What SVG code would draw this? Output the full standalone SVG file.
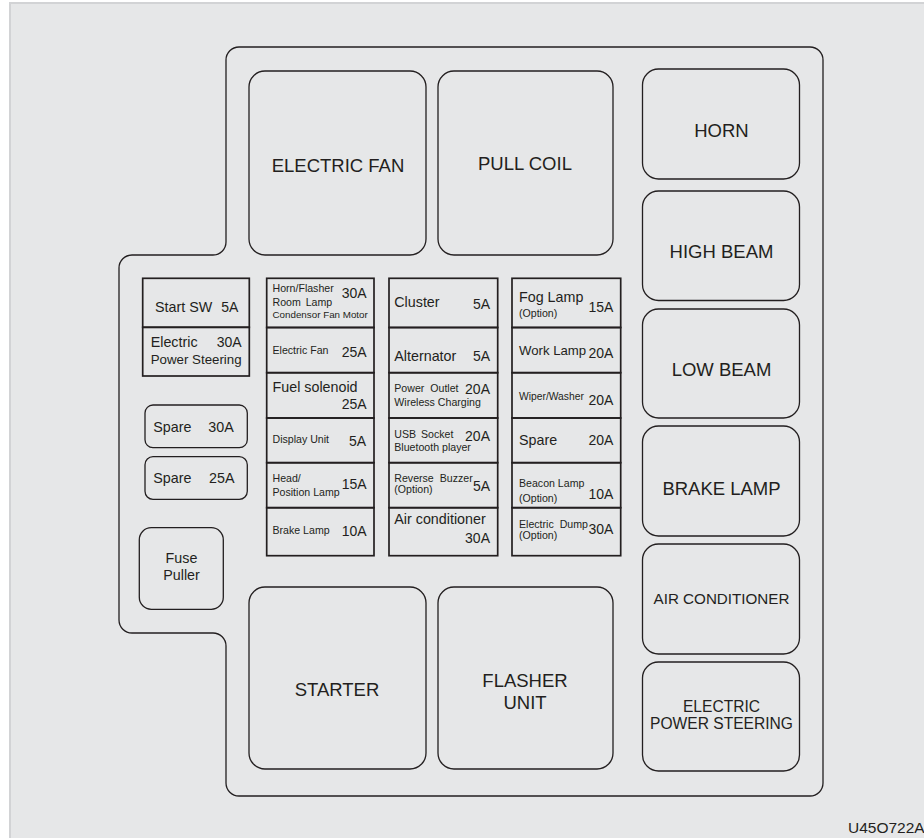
<svg xmlns="http://www.w3.org/2000/svg" width="924" height="838" viewBox="0 0 924 838">
<style>
text{font-family:"Liberation Sans",Arial,sans-serif;fill:#231f20}
.big{font-size:18.5px;text-anchor:middle}
.mid{font-size:15.6px;text-anchor:middle}
.m{font-size:14.3px}
.a{font-size:14px;text-anchor:end}
.s{font-size:10.6px}
.relay{fill:none;stroke:#231f20;stroke-width:1.3}
.fuse{fill:none;stroke:#231f20;stroke-width:1.7}
.house{fill:none;stroke:#231f20;stroke-width:1.3}
</style>
<rect x="0" y="0" width="924" height="838" fill="#ffffff"/>
<rect x="10" y="3" width="920" height="840" fill="#e6e7e8" stroke="#d2d3d5" stroke-width="2"/>
<path id="housing" class="house" d="M239,47 H810 A13,13 0 0 1 823,60 V783 A13,13 0 0 1 810,796 H239 A13,13 0 0 1 226,783 V646 A13,13 0 0 0 213,633 H132 A13,13 0 0 1 119,620 V268 A13,13 0 0 1 132,255 H213 A13,13 0 0 0 226,242 V60 A13,13 0 0 1 239,47 Z"/>

<g id="relay-electric-fan"><rect class="relay" x="249" y="71" width="177" height="184" rx="16"/><text class="big" x="338" y="172">ELECTRIC FAN</text></g>
<g id="relay-pull-coil"><rect class="relay" x="438" y="71" width="175" height="184" rx="16"/><text class="big" x="525" y="170">PULL COIL</text></g>
<g id="relay-starter"><rect class="relay" x="249" y="587" width="177" height="182" rx="16"/><text class="big" x="337" y="696">STARTER</text></g>
<g id="relay-flasher-unit"><rect class="relay" x="438" y="587" width="175" height="182" rx="16"/><text class="big" x="525" y="687">FLASHER</text><text class="big" x="525" y="709">UNIT</text></g>

<g id="relay-horn"><rect class="relay" x="642.5" y="69" width="157" height="110" rx="16"/><text class="big" x="721.5" y="137">HORN</text></g>
<g id="relay-high-beam"><rect class="relay" x="642.5" y="191" width="157" height="109.5" rx="16"/><text class="big" x="721.5" y="258">HIGH BEAM</text></g>
<g id="relay-low-beam"><rect class="relay" x="642.5" y="309" width="157" height="109" rx="16"/><text class="big" x="721.5" y="376">LOW BEAM</text></g>
<g id="relay-brake-lamp"><rect class="relay" x="642.5" y="426" width="157" height="110" rx="16"/><text class="big" x="721.5" y="495">BRAKE LAMP</text></g>
<g id="relay-air-conditioner"><rect class="relay" x="642.5" y="544" width="157" height="110" rx="16"/><text class="mid" x="721.5" y="604" style="font-size:15.2px">AIR CONDITIONER</text></g>
<g id="relay-eps"><rect class="relay" x="642.5" y="662" width="157" height="109" rx="16"/><text class="mid" x="721.5" y="712">ELECTRIC</text><text class="mid" x="721.5" y="729">POWER STEERING</text></g>

<g id="fuse-start-sw"><rect class="fuse" x="142.7" y="278.3" width="106.6" height="49"/><text class="m" x="155" y="311.7">Start SW</text><text class="a" x="238.3" y="311.7">5A</text></g>
<g id="fuse-eps"><rect class="fuse" x="142.7" y="327.3" width="106.6" height="48.7"/><text class="m" x="150.7" y="347.3">Electric</text><text class="a" x="241.7" y="347.3">30A</text><text class="m" x="150.7" y="364" style="font-size:13.3px">Power Steering</text></g>

<g id="spare-30a"><rect class="relay" x="145" y="405" width="102.3" height="42.7" rx="8"/><text class="m" x="153.3" y="431.7">Spare</text><text class="m" x="208.3" y="431.7">30A</text></g>
<g id="spare-25a"><rect class="relay" x="145" y="456.7" width="102.3" height="42.6" rx="8"/><text class="m" x="153.3" y="483.3">Spare</text><text class="m" x="209" y="483.3">25A</text></g>
<g id="fuse-puller"><rect class="relay" x="139.3" y="527.7" width="84" height="81.6" rx="12"/><text class="m" x="181.5" y="563.3" text-anchor="middle">Fuse</text><text class="m" x="181.5" y="580" text-anchor="middle">Puller</text></g>

<g id="fuse-horn-flasher"><rect class="fuse" x="266.7" y="278.3" width="107.3" height="49.2"/><text class="s" x="272.5" y="291.7">Horn/Flasher</text><text class="a" x="366.7" y="297.7">30A</text><text class="s" x="272.5" y="306" word-spacing="2">Room Lamp</text><text class="s" x="272.5" y="317.7" style="font-size:9.8px">Condensor Fan Motor</text></g>
<g id="fuse-electric-fan"><rect class="fuse" x="266.7" y="327.5" width="107.3" height="45.2"/><text class="s" x="272.5" y="354">Electric Fan</text><text class="a" x="366.7" y="357.3">25A</text></g>
<g id="fuse-fuel-solenoid"><rect class="fuse" x="266.7" y="372.7" width="107.3" height="45.3"/><text class="m" x="272.5" y="391.7">Fuel solenoid</text><text class="a" x="366.7" y="409.3">25A</text></g>
<g id="fuse-display-unit"><rect class="fuse" x="266.7" y="418" width="107.3" height="44.7"/><text class="s" x="272.5" y="443.3">Display Unit</text><text class="a" x="366" y="446">5A</text></g>
<g id="fuse-head-position"><rect class="fuse" x="266.7" y="462.7" width="107.3" height="45"/><text class="s" x="272.5" y="482.3">Head/</text><text class="s" x="272.5" y="495.7">Position Lamp</text><text class="a" x="366.7" y="489.3">15A</text></g>
<g id="fuse-brake-lamp"><rect class="fuse" x="266.7" y="507.7" width="107.3" height="48"/><text class="s" x="272.5" y="534.3">Brake Lamp</text><text class="a" x="366.7" y="536">10A</text></g>

<g id="fuse-cluster"><rect class="fuse" x="389" y="278.3" width="108.7" height="49.2"/><text class="m" x="394.3" y="306.7">Cluster</text><text class="a" x="490" y="309">5A</text></g>
<g id="fuse-alternator"><rect class="fuse" x="389" y="327.5" width="108.7" height="45.2"/><text class="m" x="394.3" y="360.7">Alternator</text><text class="a" x="490" y="360.7">5A</text></g>
<g id="fuse-power-outlet"><rect class="fuse" x="389" y="372.7" width="108.7" height="45.3"/><text class="s" x="394.3" y="392.3" word-spacing="3">Power Outlet</text><text class="a" x="490" y="394">20A</text><text class="s" x="394.3" y="406">Wireless Charging</text></g>
<g id="fuse-usb-socket"><rect class="fuse" x="389" y="418" width="108.7" height="44.7"/><text class="s" x="394.3" y="438.3" word-spacing="2">USB Socket</text><text class="a" x="490" y="440.7">20A</text><text class="s" x="394.3" y="450.7">Bluetooth player</text></g>
<g id="fuse-reverse-buzzer"><rect class="fuse" x="389" y="462.7" width="108.7" height="45"/><text class="s" x="394.3" y="481.7" word-spacing="3">Reverse Buzzer</text><text class="a" x="490" y="490.7">5A</text><text class="s" x="394.3" y="493.3">(Option)</text></g>
<g id="fuse-air-conditioner"><rect class="fuse" x="389" y="507.7" width="108.7" height="48"/><text class="m" x="394.3" y="524">Air conditioner</text><text class="a" x="490" y="543.3">30A</text></g>

<g id="fuse-fog-lamp"><rect class="fuse" x="512" y="278.3" width="108.7" height="49.2"/><text class="m" x="519" y="301.7">Fog Lamp</text><text class="s" x="519" y="316.7">(Option)</text><text class="a" x="613.3" y="311.7">15A</text></g>
<g id="fuse-work-lamp"><rect class="fuse" x="512" y="327.5" width="108.7" height="45.2"/><text class="m" x="519" y="355" style="font-size:13.2px">Work Lamp</text><text class="a" x="613.3" y="358.3">20A</text></g>
<g id="fuse-wiper-washer"><rect class="fuse" x="512" y="372.7" width="108.7" height="45.3"/><text class="s" x="519" y="400" style="font-size:10.3px">Wiper/Washer</text><text class="a" x="613.3" y="405">20A</text></g>
<g id="fuse-spare-20a"><rect class="fuse" x="512" y="418" width="108.7" height="44.7"/><text class="m" x="519" y="445">Spare</text><text class="a" x="613.3" y="445">20A</text></g>
<g id="fuse-beacon-lamp"><rect class="fuse" x="512" y="462.7" width="108.7" height="45"/><text class="s" x="519" y="487.3">Beacon Lamp</text><text class="s" x="519" y="502.3">(Option)</text><text class="a" x="613.3" y="499.3">10A</text></g>
<g id="fuse-electric-dump"><rect class="fuse" x="512" y="507.7" width="108.7" height="48"/><text class="s" x="519" y="528.3" word-spacing="3">Electric Dump</text><text class="s" x="519" y="539.3">(Option)</text><text class="a" x="613.3" y="534.3">30A</text></g>

<g id="connectors"></g>
<text x="848" y="833" style="font-size:15.5px">U45O722A</text>
</svg>
